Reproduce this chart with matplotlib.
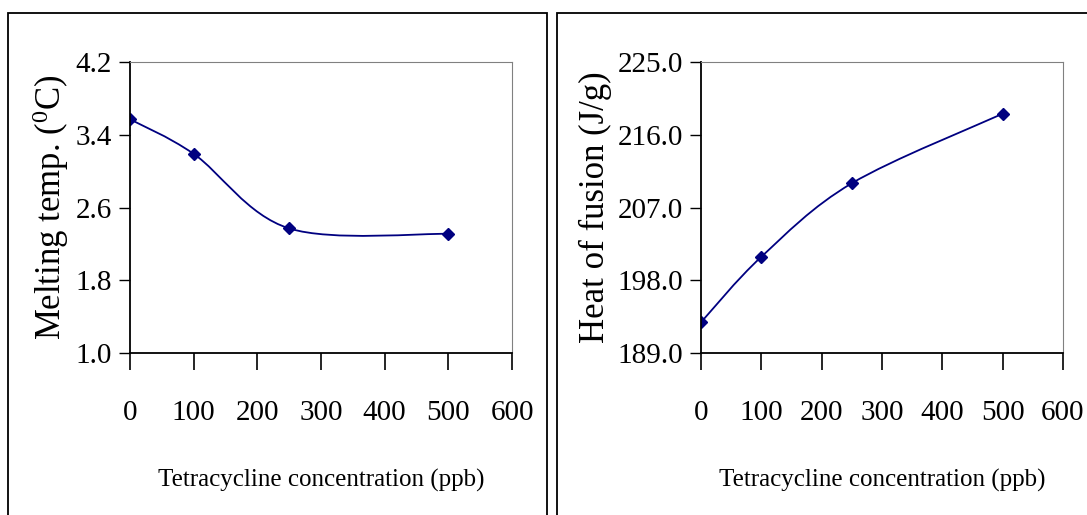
import numpy as np
import matplotlib
matplotlib.use('Agg')
import matplotlib.pyplot as plt
from matplotlib.path import Path
from matplotlib.patches import PathPatch, Rectangle

plt.rcParams['font.family'] = ['Liberation Serif', 'DejaVu Serif']
plt.rcParams['mathtext.fontset'] = 'custom'
plt.rcParams['mathtext.rm'] = 'Liberation Serif'
plt.rcParams['mathtext.it'] = 'Liberation Serif'

# data
conc = [0, 100, 250, 500]
melt_temp = [3.57, 3.19, 2.37, 2.31]
heat_fusion = [192.8, 200.9, 210.0, 218.6]

x_ticks = [0, 100, 200, 300, 400, 500, 600]
melt_ticks = [1.0, 1.8, 2.6, 3.4, 4.2]
heat_ticks = [189.0, 198.0, 207.0, 216.0, 225.0]

navy = '#000080'


def smooth_path(xs, ys):
    # excel style smoothed line, bezier through the points
    pts = np.column_stack([xs, ys]).astype(float)
    n = len(pts)
    verts = [pts[0]]
    codes = [Path.MOVETO]
    for i in range(n - 1):
        p0 = pts[max(i - 1, 0)]
        p1 = pts[i]
        p2 = pts[i + 1]
        p3 = pts[min(i + 2, n - 1)]
        c1 = p1 + (p2 - p0) / 6.0
        c2 = p2 - (p3 - p1) / 6.0
        verts += [c1, c2, p2]
        codes += [Path.CURVE4] * 3
    return Path(verts, codes)


def draw_panel(ax, ys, yticks, ylabel, ylabelx):
    ax.add_patch(PathPatch(smooth_path(conc, ys), fill=False, color=navy, lw=1.3))
    ax.plot(conc, ys, linestyle='none', marker='D', ms=6, color=navy)
    ax.set_xlim(0, 600)
    ax.set_ylim(yticks[0], yticks[-1])
    ax.set_xticks(x_ticks)
    ax.set_yticks(yticks)
    ax.set_yticklabels(['%.1f' % v for v in yticks])
    for s in ['top', 'right']:
        ax.spines[s].set_color('#808080')
    for s in ['left', 'bottom']:
        ax.spines[s].set_color('black')
        ax.spines[s].set_linewidth(1.3)
    ax.tick_params(axis='x', direction='out', length=12, width=1.2, pad=22, labelsize=21)
    ax.tick_params(axis='y', direction='out', length=8, width=1.0, pad=5, labelsize=21)
    ax.set_xlabel('Tetracycline concentration (ppb)', fontsize=18, labelpad=31)
    ax.set_ylabel(ylabel, fontsize=25)
    ax.yaxis.set_label_coords(ylabelx, 0.5)


fig = plt.figure(figsize=(10.87, 5.15), dpi=100)

# panel frames
fig.patches.append(Rectangle((8 / 1087, -0.05), 539 / 1087, 1.05 - 13 / 515,
                             transform=fig.transFigure, fill=False, ec='black', lw=1.3))
fig.patches.append(Rectangle((557 / 1087, -0.05), 0.6, 1.05 - 13 / 515,
                             transform=fig.transFigure, fill=False, ec='black', lw=1.3))

ax1 = fig.add_axes([130 / 1087, 162 / 515, 382 / 1087, 291 / 515])
ax2 = fig.add_axes([701 / 1087, 162 / 515, 362 / 1087, 291 / 515])

draw_panel(ax1, melt_temp, melt_ticks, r'Melting temp. ($^{0}$C)', -0.155)
draw_panel(ax2, heat_fusion, heat_ticks, 'Heat of fusion (J/g)', -0.245)

fig.savefig('out.png', dpi=100)
